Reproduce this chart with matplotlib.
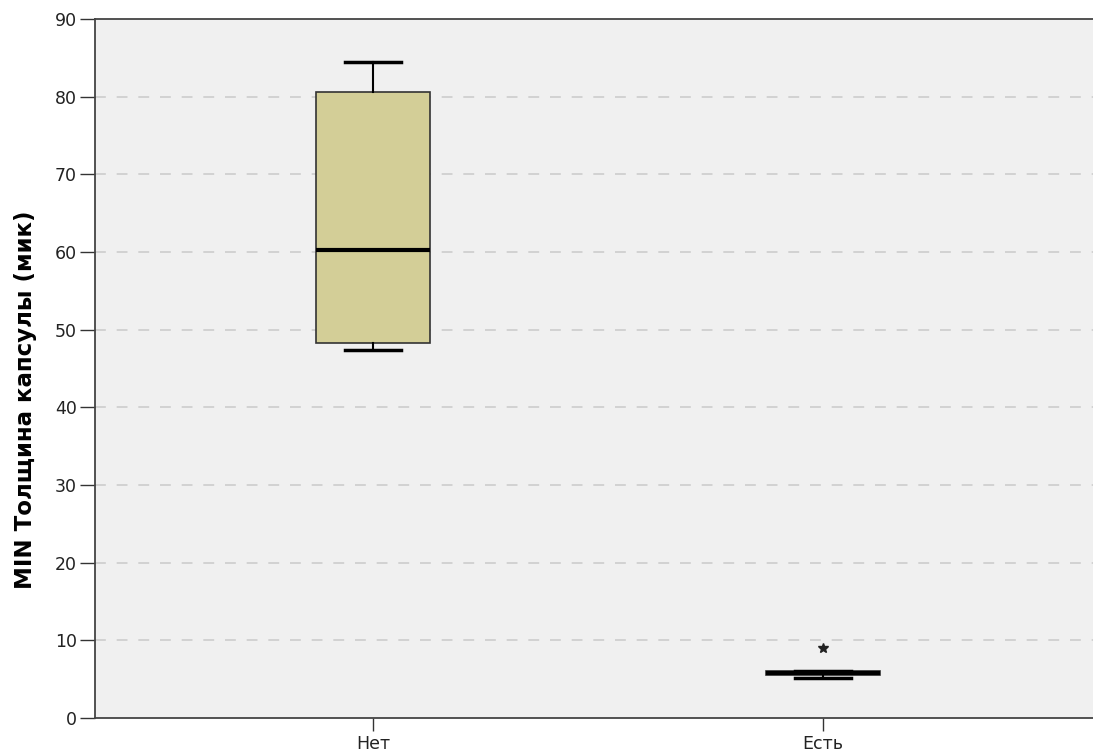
import matplotlib
matplotlib.use("Agg")
import matplotlib.pyplot as plt

# данные
groups = ["Нет", "Есть"]
whisk_lo = [47.4, 5.2]
q1 = [48.3, 5.5]
med = [60.3, 5.8]
q3 = [80.6, 6.0]
whisk_hi = [84.5, 6.0]
outliers = [[], [9.0]]

yticks = [0, 10, 20, 30, 40, 50, 60, 70, 80, 90]

plt.rcParams['font.family'] = ['DejaVu Sans']

fig = plt.figure(figsize=(10.93, 7.55), dpi=100)
ax = fig.add_axes([95 / 1093, 37 / 755, 1 - 95 / 1093, (718 - 19) / 755])
ax.set_facecolor('#f0f0f0')

stats = []
for i, g in enumerate(groups):
    stats.append({
        'label': g,
        'whislo': whisk_lo[i], 'q1': q1[i], 'med': med[i],
        'q3': q3[i], 'whishi': whisk_hi[i], 'fliers': [],
    })

ax.bxp(stats, positions=[1, 2], widths=0.253, patch_artist=True,
       showfliers=False,
       boxprops=dict(facecolor='#d3ce97', edgecolor='#333333', linewidth=1.2),
       medianprops=dict(color='black', linewidth=3),
       whiskerprops=dict(color='black', linewidth=1.5),
       capprops=dict(color='black', linewidth=2.5),
       capwidths=0.125, zorder=3)

# выбросы звёздочкой
for i, pts in enumerate(outliers):
    for p in pts:
        ax.plot(i + 1, p, marker='*', color='#222222', markersize=7, zorder=4, linestyle='none')

ax.set_xlim(0.382, 2.6)
ax.set_ylim(0, 90)
ax.set_yticks(yticks)
ax.set_yticklabels([str(t) for t in yticks], fontsize=12.5, color='#222222')
ax.set_xticks([1, 2])
ax.set_xticklabels(groups, fontsize=12.5, color='#222222')
ax.tick_params(axis='y', direction='out', length=11, width=1, color='#333333', pad=2)
ax.tick_params(axis='x', direction='out', length=9, width=1, color='#333333', pad=3)

for t in yticks[1:-1]:
    ax.axhline(t, color='#cfcfcf', linestyle=(0, (6, 6)), linewidth=1.3, zorder=1)

ax.spines['right'].set_visible(False)
for s in ['left', 'bottom', 'top']:
    ax.spines[s].set_color('#444444')
    ax.spines[s].set_linewidth(1.3)

ax.set_ylabel('MIN Толщина капсулы (мик)', fontsize=16.5, fontweight='bold')
ax.yaxis.set_label_coords(-0.058, 0.455)

fig.savefig('out.png', dpi=100)
